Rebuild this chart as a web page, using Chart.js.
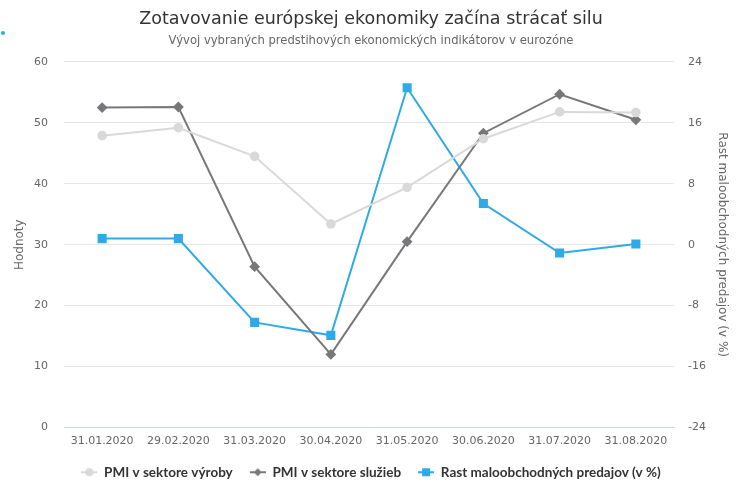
<!DOCTYPE html>
<html>
<head>
<meta charset="utf-8">
<script src="https://cdn.jsdelivr.net/npm/chart.js@4"></script>
<style>
  html, body { margin: 0; padding: 0; background: #fff; }
  #wrap { position: relative; width: 744px; height: 500px; }
  #dot { position: absolute; left: 1px; top: 31px; width: 4px; height: 4px; border-radius: 2px; background: #2eaae6; }
</style>
</head>
<body>
<div id="wrap">
  <canvas id="chart" width="744" height="500"></canvas>
  <div id="dot"></div>
</div>
<script>
var months = ['31.01.2020', '29.02.2020', '31.03.2020', '30.04.2020', '31.05.2020', '30.06.2020', '31.07.2020', '31.08.2020'];
var pmiVyroba = [47.9, 49.2, 44.5, 33.4, 39.4, 47.4, 51.8, 51.7];
var pmiSluzby = [52.5, 52.6, 26.4, 12.0, 30.5, 48.3, 54.7, 50.5];
var rastPredajov = [0.8, 0.8, -10.2, -11.9, 20.6, 5.4, -1.1, 0.1];

var colors = ['#d9d9d9', '#78787b', '#2eaae6'];
var markers = ['circle', 'diamond', 'square'];

var font = '"DejaVu Sans", Verdana, sans-serif';
Chart.defaults.font.family = font;
Chart.defaults.color = '#666666';

// legend icons: short line with the marker in the middle
function makeIcon(color, marker) {
    var c = document.createElement('canvas');
    c.width = 16; c.height = 12;
    var g = c.getContext('2d');
    g.strokeStyle = color;
    g.fillStyle = color;
    g.lineWidth = 2;
    g.beginPath(); g.moveTo(0, 6); g.lineTo(16, 6); g.stroke();
    g.beginPath();
    if (marker === 'circle') {
        g.arc(8, 6, 4, 0, Math.PI * 2);
    } else if (marker === 'diamond') {
        g.moveTo(8, 2); g.lineTo(12, 6); g.lineTo(8, 10); g.lineTo(4, 6); g.closePath();
    } else {
        g.rect(4, 2, 8, 8);
    }
    g.fill();
    return c;
}
var legendIcons = colors.map(function (c, i) { return makeIcon(c, markers[i]); });

var ctx = document.getElementById('chart').getContext('2d');
var chart = new Chart(ctx, {
    type: 'line',
    data: {
        labels: months,
        datasets: [{
            label: 'PMI v sektore výroby',
            data: pmiVyroba,
            yAxisID: 'y',
            borderColor: colors[0],
            backgroundColor: colors[0],
            borderWidth: 2,
            pointStyle: 'circle',
            pointRadius: 3.8,
            tension: 0
        }, {
            label: 'PMI v sektore služieb',
            data: pmiSluzby,
            yAxisID: 'y',
            borderColor: colors[1],
            backgroundColor: colors[1],
            borderWidth: 2,
            pointStyle: 'rectRot',
            pointRadius: 4,
            tension: 0
        }, {
            label: 'Rast maloobchodných predajov (v %)',
            data: rastPredajov,
            yAxisID: 'y1',
            borderColor: colors[2],
            backgroundColor: colors[2],
            borderWidth: 2,
            pointStyle: 'rect',
            pointRadius: 5,
            tension: 0
        }]
    },
    options: {
        responsive: false,
        animation: false,
        layout: { padding: { left: 13, right: 15, top: 0, bottom: 11 } },
        plugins: {
            title: {
                display: true,
                text: 'Zotavovanie európskej ekonomiky začína strácať silu',
                color: '#333333',
                font: { size: 17.5, weight: 'normal' },
                padding: { top: 9, bottom: 4 }
            },
            subtitle: {
                display: true,
                text: 'Vývoj vybraných predstihových ekonomických indikátorov v eurozóne',
                color: '#666666',
                font: { size: 11.6 },
                padding: { bottom: 14 }
            },
            legend: {
                position: 'bottom',
                labels: {
                    usePointStyle: true,
                    pointStyleWidth: 16,
                    boxHeight: 11,
                    color: '#333333',
                    font: { family: 'Lato, "DejaVu Sans", sans-serif', size: 13.5, weight: 'bold' },
                    padding: 17,
                    generateLabels: function (chart) {
                        var items = Chart.defaults.plugins.legend.labels.generateLabels(chart);
                        items.forEach(function (it, i) { it.pointStyle = legendIcons[i]; });
                        return items;
                    }
                }
            },
            tooltip: { enabled: false }
        },
        scales: {
            x: {
                offset: true,
                grid: { display: false, drawTicks: false },
                border: { color: '#ccd6eb' },
                ticks: { color: '#666666', font: { size: 11 }, maxRotation: 0, padding: 7 },
                afterFit: function (s) { s.height = 21; }
            },
            y: {
                position: 'left',
                min: 0,
                max: 60,
                ticks: { stepSize: 10, color: '#666666', font: { size: 11 }, padding: 16 },
                grid: { color: '#e6e6e6', drawTicks: false },
                border: { display: false },
                title: { display: true, text: 'Hodnoty', color: '#666666', font: { size: 12 }, padding: 0 },
                afterFit: function (s) { s.width = 51; }
            },
            y1: {
                position: 'right',
                min: -24,
                max: 24,
                ticks: { stepSize: 8, color: '#666666', font: { size: 11 }, padding: 14 },
                grid: { display: false, drawTicks: false },
                border: { display: false },
                title: { display: true, text: 'Rast maloobchodných predajov (v %)', color: '#666666', font: { size: 12 }, padding: 0 },
                afterFit: function (s) { s.width = 55; }
            }
        }
    }
});
</script>
</body>
</html>
